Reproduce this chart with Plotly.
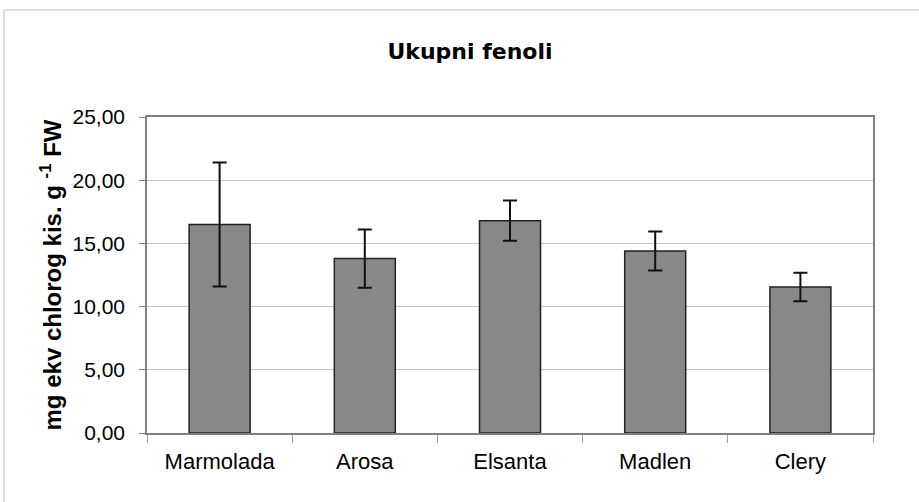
import plotly.graph_objects as go

categories = ["Marmolada", "Arosa", "Elsanta", "Madlen", "Clery"]
values = [16.5, 13.8, 16.8, 14.4, 11.55]
errors = [4.9, 2.3, 1.6, 1.55, 1.12]
y_ticks = [0, 5, 10, 15, 20, 25]

W, H = 919, 502
L, R, T, B = 147, 46, 117, 69
pw, ph = W - L - R, H - T - B

def px_to_paper_x(px):
    return (px - L) / pw

def px_to_paper_y(py):
    return (H - B - py) / ph

fig = go.Figure()
fig.add_trace(go.Bar(
    x=categories, y=values,
    marker=dict(color="#888888", line=dict(color="#222222", width=1.5)),
    error_y=dict(type="data", array=errors, visible=True, color="#111111", thickness=2, width=7),
))

fig.update_layout(
    width=W, height=H,
    margin=dict(l=L, r=R, t=T, b=B),
    paper_bgcolor="white", plot_bgcolor="white",
    separators=",.",
    bargap=0.58,
    showlegend=False,
    font=dict(family="Liberation Sans, Arial, sans-serif", color="black", size=21),
    title=dict(text="<b>Ukupni fenoli</b>", x=470 / W, xref="container", xanchor="center",
               y=1 - 51 / H, yref="container", yanchor="middle",
               font=dict(size=22, family="DejaVu Sans, sans-serif", color="black")),
    xaxis=dict(
        showline=True, linecolor="#808080", linewidth=1.5, mirror=True,
        ticks="outside", tickson="boundaries", ticklen=8, tickcolor="#a0a0a0",
        tickfont=dict(size=22), showgrid=False, ticklabelstandoff=8,
    ),
    yaxis=dict(
        range=[0, 25], tickvals=y_ticks, tickformat=".2f",
        showline=True, linecolor="#808080", linewidth=1.5, mirror=True,
        ticks="outside", ticklen=6, tickcolor="#808080",
        showgrid=True, gridcolor="#c4c4c4", gridwidth=1,
        tickfont=dict(size=21), ticklabelstandoff=10,
        title=dict(text="<b>mg ekv chlorog kis. g <sup>-1</sup> FW</b>", font=dict(size=24), standoff=4),
    ),
    shapes=[
        dict(type="line", xref="paper", yref="paper",
             x0=px_to_paper_x(4), x1=px_to_paper_x(W + 5), y0=px_to_paper_y(10), y1=px_to_paper_y(10),
             line=dict(color="#d4d4d4", width=1.5)),
        dict(type="line", xref="paper", yref="paper",
             x0=px_to_paper_x(4), x1=px_to_paper_x(4), y0=px_to_paper_y(10), y1=px_to_paper_y(H + 5),
             line=dict(color="#d4d4d4", width=1.5)),
    ],
)

fig.write_html("out.html", config={"displayModeBar": False},
               post_script="document.body.style.margin='0';")
